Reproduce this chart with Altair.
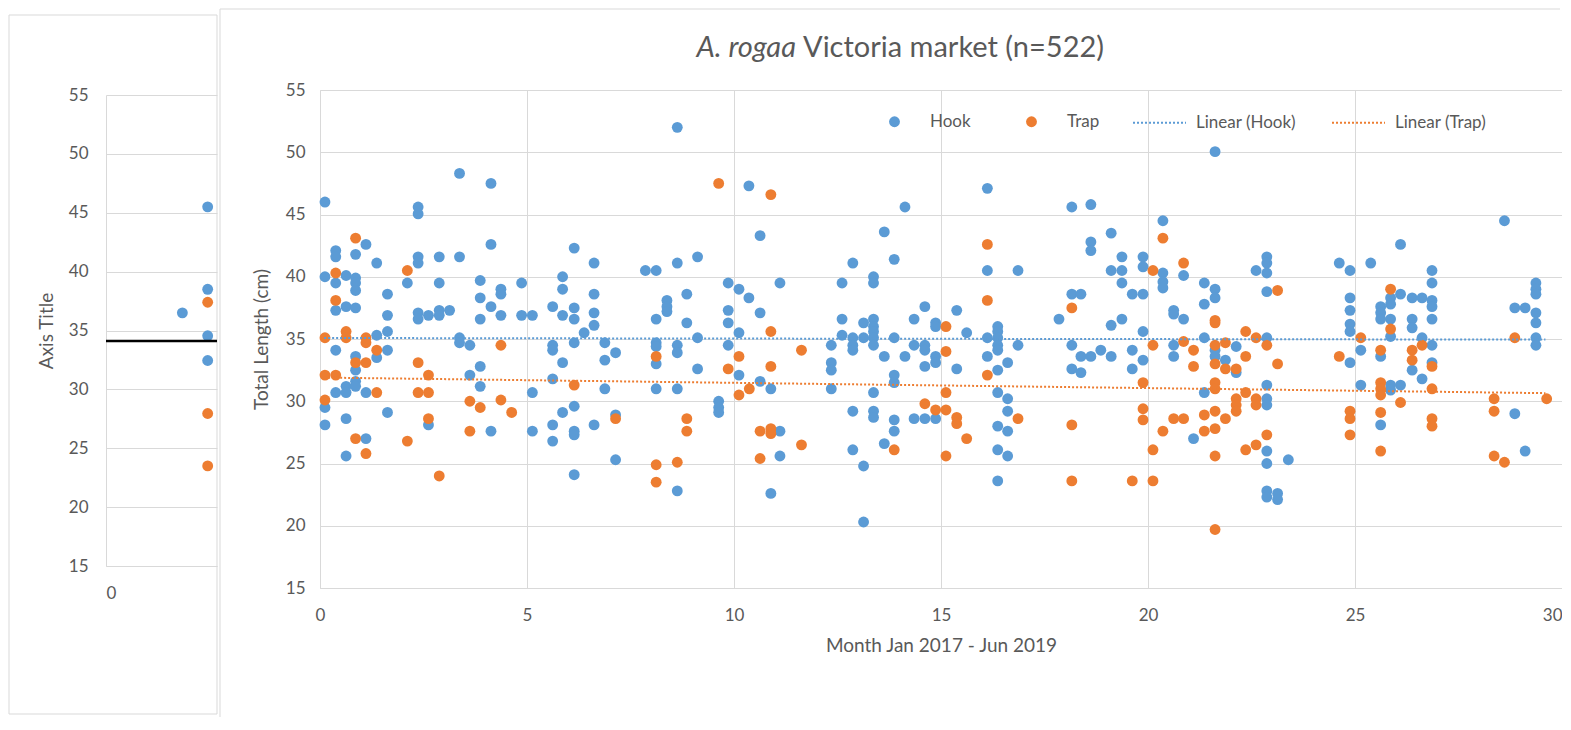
import altair as alt
import pandas as pd

BLUE = "#5B9BD5"
ORANGE = "#ED7D31"
TEXT = "#595959"
GRID = "#D9D9D9"
FONT = "Lato"

# ---------------- data ----------------
hook_x = [3.37, 4.13, 0.12, 2.37, 2.37, 1.11, 4.13, 0.38, 0.38, 0.86, 1.37, 2.37, 2.37, 2.88, 3.37,
          0.12, 0.38, 0.63, 0.86, 0.86, 0.86, 2.11, 2.88, 1.63, 3.87, 3.87, 4.37, 4.37, 4.87, 4.13,
          0.38, 0.63, 0.86, 1.63, 2.37, 2.37, 2.62, 2.88, 2.88, 3.13, 3.87, 4.37, 4.87, 5.13, 1.63,
          1.37, 3.37, 3.37, 3.62, 0.38, 1.63, 0.86, 1.37, 0.86, 3.87, 3.62, 0.86, 0.63, 0.38, 0.86,
          1.11, 0.63, 3.87, 0.12, 0.12, 0.63, 1.63, 2.62, 4.13, 5.13, 1.11, 0.63, 5.62, 5.62, 5.62,
          5.62, 5.86, 5.86, 5.62, 5.86, 5.86, 5.62, 5.86, 5.13,
          8.63, 10.36, 10.63, 6.14, 6.62, 7.86, 8.12, 8.63, 9.12, 6.62, 6.14, 6.14, 6.62, 6.62, 6.38,
          6.14, 6.88, 7.14, 6.88, 8.38, 8.38, 8.38, 8.12, 8.86, 8.86, 8.12, 8.12, 8.12, 8.63, 8.63,
          9.12, 9.12, 9.86, 10.12, 10.36, 10.63, 11.11, 9.86, 9.86, 10.12, 9.86, 10.12, 10.63, 10.89,
          6.14, 6.14, 6.14, 6.62, 7.14, 6.88, 8.12, 8.63, 9.63, 9.63, 9.63, 11.11, 11.11, 7.14, 6.14,
          8.63, 10.89,
          16.12, 14.13, 13.63, 12.87, 13.87, 13.37, 13.37, 12.61, 16.12, 16.86, 14.61, 15.38, 14.35,
          14.87, 14.87, 12.61, 13.13, 13.37, 13.37, 13.37, 13.37, 13.37, 13.13, 12.87, 12.87, 12.87,
          12.61, 12.35, 12.35, 12.35, 12.35, 13.87, 13.63, 14.13, 14.35, 14.61, 14.61, 14.61, 14.87,
          14.87, 15.62, 15.38, 13.87, 13.87, 13.37, 12.87, 13.37, 13.37, 13.87, 13.87, 14.35, 14.61,
          14.87, 13.63, 12.87, 13.13, 13.13, 16.12, 16.12, 16.37, 16.37, 16.37, 16.37, 16.37, 16.86,
          16.37, 16.61, 16.37, 16.61, 16.61, 16.37, 16.61, 16.37, 16.61, 16.37, 17.85,
          21.62, 18.16, 18.62, 20.36, 19.11, 18.62, 18.62, 19.37, 19.88, 19.88, 19.11, 19.37, 20.36,
          20.36, 20.36, 20.86, 19.37, 18.16, 18.38, 19.62, 19.88, 21.36, 21.62, 21.62, 21.36, 22.87,
          22.87, 22.87, 22.61, 22.87, 20.62, 20.62, 20.86, 19.11, 19.37, 19.88, 18.16, 18.38, 18.62,
          18.86, 19.11, 18.16, 18.38, 19.62, 19.88, 19.62, 20.62, 20.62, 21.36, 21.62, 21.62, 21.87,
          22.13, 22.13, 22.87, 22.87, 21.36, 22.87, 22.87, 21.10, 22.87, 22.87, 23.39, 22.87, 23.13,
          22.87, 23.13,
          28.61, 26.10, 24.62, 24.88, 25.38, 26.86, 26.86, 29.37, 29.37, 29.37, 24.88, 24.88, 24.88,
          24.88, 25.86, 26.10, 26.38, 26.62, 26.86, 26.86, 25.62, 25.62, 25.62, 25.86, 25.86, 26.38,
          26.38, 26.86, 25.86, 26.62, 26.86, 28.86, 29.11, 29.37, 29.37, 29.37, 29.37, 25.14, 24.88,
          25.62, 26.38, 26.62, 26.86, 25.14, 25.86, 25.86, 26.10, 25.62, 28.86, 29.11]
hook_y = [48.3, 47.5, 46.0, 45.6, 45.05, 42.6, 42.6, 42.1, 41.6, 41.8, 41.1, 41.6, 41.1, 41.6, 41.6,
          40.0, 39.5, 40.1, 39.9, 39.5, 38.9, 39.5, 39.5, 38.6, 39.7, 38.3, 39.0, 38.6, 39.5, 37.6,
          37.3, 37.6, 37.5, 36.9, 37.1, 36.6, 36.9, 37.3, 36.9, 37.3, 36.6, 36.9, 36.9, 36.9, 35.6,
          35.3, 35.1, 34.7, 34.5, 34.1, 34.1, 33.6, 33.5, 32.5, 32.8, 32.1, 31.6, 31.2, 30.7, 31.2,
          30.7, 30.7, 31.2, 29.5, 28.1, 28.6, 29.1, 28.1, 27.6, 27.6, 27.0, 25.6, 28.1, 26.8, 34.5,
          34.1, 40.0, 39.0, 37.6, 36.9, 33.1, 31.8, 29.1, 30.7,
          52.0, 47.3, 43.3, 42.3, 41.1, 40.5, 40.5, 41.1, 41.6, 38.6, 37.5, 36.6, 37.1, 36.1, 35.5,
          34.7, 34.7, 33.9, 33.3, 38.1, 37.6, 37.2, 36.6, 38.6, 36.3, 34.7, 34.4, 33.0, 34.5, 33.9,
          35.1, 32.6, 39.5, 39.0, 38.3, 37.1, 39.5, 37.3, 36.3, 35.5, 34.5, 32.1, 31.6, 31.0,
          29.6, 27.6, 27.3, 28.1, 28.9, 31.0, 31.0, 31.0, 30.0, 29.5, 29.1, 27.6, 25.6, 25.3, 24.1,
          22.8, 22.6,
          47.1, 45.6, 43.6, 41.1, 41.4, 40.0, 39.5, 39.5, 40.5, 40.5, 37.6, 37.3, 36.6,
          36.3, 36.0, 36.6, 36.3, 36.6, 36.0, 35.6, 35.1, 34.5, 35.1, 35.1, 34.5, 34.1,
          35.3, 34.5, 33.1, 32.5, 31.0, 35.1, 33.6, 33.6, 34.5, 34.5, 34.1, 32.8, 33.6,
          33.1, 35.5, 32.6, 32.1, 31.5, 30.7, 29.2, 29.2, 28.7, 28.5, 27.6, 28.6, 28.6,
          28.6, 26.6, 26.1, 24.8, 20.3, 35.1, 33.6, 36.0, 35.6, 35.1, 34.5, 34.1, 34.5,
          32.5, 33.1, 30.7, 30.2, 29.2, 28.0, 27.6, 26.1, 25.6, 23.6, 36.6,
          50.05, 45.6, 45.8, 44.5, 43.5, 42.8, 42.1, 41.6, 41.6, 40.8, 40.5, 40.5, 40.3,
          39.6, 39.1, 40.1, 39.5, 38.6, 38.6, 38.6, 38.6, 39.5, 39.0, 38.3, 37.8, 41.6,
          41.1, 40.3, 40.5, 38.8, 37.3, 37.0, 36.6, 36.1, 36.6, 35.6, 34.5, 33.6, 33.6,
          34.1, 33.6, 32.6, 32.3, 34.1, 33.3, 32.6, 34.5, 33.6, 35.1, 34.1, 33.6, 33.3,
          34.4, 32.3, 35.1, 31.3, 30.7, 30.2, 29.7, 27.0, 26.0, 25.0, 25.3, 22.8, 22.6,
          22.3, 22.1,
          44.5, 42.6, 41.1, 40.5, 41.1, 40.5, 39.5, 39.5, 39.0, 38.6, 38.3, 37.3, 36.2,
          35.6, 38.3, 38.6, 38.3, 38.3, 38.1, 37.6, 37.6, 37.1, 36.6, 37.8, 36.6, 36.6,
          35.9, 36.6, 35.2, 35.1, 34.5, 37.5, 37.5, 37.1, 36.3, 35.1, 34.5, 34.1, 33.1,
          33.6, 32.5, 31.8, 33.1, 31.3, 31.3, 30.9, 31.3, 28.1, 29.0, 26.0]

trap_x = [0.86, 0.38, 2.11, 0.38, 0.12, 0.63, 0.63, 1.11, 1.11, 1.37, 0.86, 1.11, 2.37, 4.37, 0.12,
          0.38, 2.62, 0.12, 1.37, 2.37, 2.62, 3.62, 3.87, 4.37, 4.63, 2.62, 3.62, 0.86, 1.11, 2.11,
          2.88,
          9.63, 10.89, 10.89, 11.63, 10.12, 10.89, 9.86, 8.12, 6.14, 10.37, 10.12, 7.14, 8.86, 8.86,
          10.63, 10.89, 10.89, 11.63, 10.63, 8.12, 8.12, 8.63,
          16.12, 16.12, 15.12, 15.12, 16.12, 15.12, 14.61, 14.87, 15.12, 15.38, 15.38, 15.62, 13.87,
          15.12, 16.86,
          20.36, 20.86, 20.12, 23.13, 18.16, 21.62, 21.62, 22.36, 22.61, 22.87, 20.12, 20.86, 21.10,
          21.62, 21.87, 22.36, 23.13, 21.10, 21.62, 21.87, 22.13, 19.88, 21.62, 21.62, 22.13, 22.13,
          22.13, 22.36, 22.61, 22.61, 19.88, 19.88, 20.62, 20.86, 21.36, 21.62, 21.87, 21.36, 21.62,
          20.36, 22.87, 22.61, 22.36, 18.16, 20.12, 21.62, 18.16, 19.62, 20.12, 21.62,
          25.86, 25.86, 25.14, 28.86, 26.62, 26.38, 26.38, 25.62, 24.62, 26.86, 25.62, 25.62, 25.62,
          26.86, 26.10, 24.88, 24.88, 25.62, 26.86, 26.86, 24.88, 25.62, 28.36, 28.36, 28.36, 28.61,
          29.63]
trap_y = [43.1, 40.3, 40.5, 38.1, 35.1, 35.6, 35.1, 35.1, 34.7, 34.1, 33.1, 33.1, 33.1, 34.5, 32.1,
          32.1, 32.1, 30.1, 30.7, 30.7, 30.7, 30.0, 29.5, 30.1, 29.1, 28.6, 27.6, 27.0, 25.8, 26.8,
          24.0,
          47.5, 46.6, 35.6, 34.1, 33.6, 32.8, 32.6, 33.6, 31.3, 31.0, 30.5, 28.6, 28.6, 27.6,
          27.6, 27.8, 27.4, 26.5, 25.4, 24.9, 23.5, 25.1,
          42.6, 38.1, 36.0, 34.0, 32.1, 30.7, 29.8, 29.3, 29.3, 28.7, 28.2, 27.0, 26.1,
          25.6, 28.6,
          43.1, 41.1, 40.5, 38.9, 37.5, 36.5, 36.3, 35.6, 35.1, 34.5, 34.5, 34.8, 34.1,
          34.5, 34.7, 33.6, 33.0, 32.8, 33.0, 32.6, 32.6, 31.5, 31.5, 31.0, 30.2, 29.7,
          29.2, 30.7, 30.2, 29.7, 29.4, 28.5, 28.6, 28.6, 28.9, 29.2, 28.6, 27.6, 27.8,
          27.6, 27.3, 26.5, 26.1, 28.1, 26.1, 25.6, 23.6, 23.6, 23.6, 19.7,
          39.0, 35.8, 35.1, 35.1, 34.5, 34.1, 33.3, 34.1, 33.6, 32.8, 31.5, 31.0, 30.5,
          31.0, 29.9, 29.2, 28.6, 29.1, 28.6, 28.0, 27.3, 26.0, 30.2, 29.2, 25.6, 25.1,
          30.2]

trend_x = [0.1, 29.6]
hook_trend_y = [35.08, 34.95]
trap_trend_y = [31.9, 30.65]

# partly hidden chart behind
bg_hook_x = [1.72, 2.29, 2.29, 2.29, 2.29]
bg_hook_y = [36.5, 45.5, 38.5, 34.55, 32.45]
bg_trap_x = [2.29, 2.29, 2.29]
bg_trap_y = [37.4, 27.95, 23.5]
bg_level = [34.1]

y_ticks = [15, 20, 25, 30, 35, 40, 45, 50, 55]
x_ticks = [0, 5, 10, 15, 20, 25, 30]
series_names = ["Hook", "Trap"]
trend_names = ["Linear (Hook)", "Linear (Trap)"]

title_italic = "A. rogaa"
title_rest = "Victoria market (n=522)"

# ---------------- tables ----------------
pts = pd.concat([
    pd.DataFrame({"month": hook_x, "length": hook_y, "series": series_names[0]}),
    pd.DataFrame({"month": trap_x, "length": trap_y, "series": series_names[1]}),
], ignore_index=True)
trend = pd.DataFrame({
    "month": trend_x + trend_x,
    "length": hook_trend_y + trap_trend_y,
    "trend": [trend_names[0]] * 2 + [trend_names[1]] * 2,
})
bg_pts = pd.concat([
    pd.DataFrame({"month": bg_hook_x, "length": bg_hook_y, "series": series_names[0]}),
    pd.DataFrame({"month": bg_trap_x, "length": bg_trap_y, "series": series_names[1]}),
], ignore_index=True)
bg_rule = pd.DataFrame({"level": bg_level})
one = pd.DataFrame({"k": [0]})

DOT = 118

# ---------------- main chart (B) ----------------
W, H = 1242, 498
xs = alt.Scale(domain=[0, 30], nice=False)
ys = alt.Scale(domain=[15, 55], nice=False)
x_axis = alt.Axis(values=x_ticks, title="Month Jan 2017 - Jun 2019", grid=True, ticks=False,
                  labelPadding=19, titlePadding=13,
                  labelAlign={"condition": {"test": "datum.value >= 30", "value": "right"},
                              "value": "center"})
y_axis = alt.Axis(values=y_ticks, title="Total Length (cm)", grid=True, ticks=False,
                  labelPadding=15, titlePadding=14)
color_scale = alt.Scale(domain=series_names, range=[BLUE, ORANGE])

frame_left = alt.Chart(one).mark_rule(color=GRID, strokeWidth=1).encode(
    x=alt.value(-100), y=alt.value(-81), y2=alt.value(627))
frame_top = alt.Chart(one).mark_rule(color=GRID, strokeWidth=1).encode(
    x=alt.value(-100), x2=alt.value(1240), y=alt.value(-81))

points = alt.Chart(pts).mark_circle(size=DOT, opacity=1).encode(
    x=alt.X("month:Q", scale=xs, axis=x_axis),
    y=alt.Y("length:Q", scale=ys, axis=y_axis),
    color=alt.Color("series:N", scale=color_scale,
                    legend=alt.Legend(orient="none", legendX=566, legendY=23, direction="horizontal",
                                      title=None, symbolType="circle", symbolSize=DOT,
                                      symbolStrokeWidth=0, labelOffset=27, columnPadding=52,
                                      padding=0)),
)
lines = alt.Chart(trend).mark_line(strokeDash=[2, 2], strokeWidth=2).encode(
    x=alt.X("month:Q", scale=xs, axis=x_axis),
    y=alt.Y("length:Q", scale=ys, axis=y_axis),
    stroke=alt.Stroke("trend:N", scale=alt.Scale(domain=trend_names, range=[BLUE, ORANGE]),
                      legend=alt.Legend(orient="none", legendX=812, legendY=5,
                                        direction="horizontal", title=None, symbolType="stroke",
                                        symbolSize=2809, symbolStrokeWidth=2, symbolDash=[2, 2],
                                        labelOffset=9, columnPadding=32, padding=0)),
)
t1 = alt.Chart(one).mark_text(text=title_italic, font=FONT, fontSize=29, fontStyle="italic",
                              color=TEXT, align="right", baseline="alphabetic").encode(
    x=alt.value(476), y=alt.value(-33))
t2 = alt.Chart(one).mark_text(text=title_rest, font=FONT, fontSize=29, color=TEXT,
                              align="left", baseline="alphabetic").encode(
    x=alt.value(483), y=alt.value(-33))

main = alt.layer(frame_left, frame_top, points, lines, t1, t2).properties(width=W, height=H)

# ---------------- background chart (A), mostly hidden ----------------
a_xs = alt.Scale(domain=[0, 2.5], nice=False)
a_ys = alt.Scale(domain=[15, 55], nice=False, range=[476, 5])
a_x_axis = alt.Axis(values=[0], title=None, grid=False, ticks=False, offset=-22, labelPadding=19)
a_y_axis = alt.Axis(values=y_ticks, title="Axis Title", grid=True, ticks=False,
                    labelPadding=18, titlePadding=12)

a_frame = alt.Chart(one).mark_rect(fill="transparent", stroke=GRID, strokeWidth=1).encode(
    x=alt.value(-97), x2=alt.value(111), y=alt.value(-75), y2=alt.value(624))
a_pad = alt.Chart(one).mark_rule(color="white", strokeWidth=1).encode(
    x=alt.value(0), x2=alt.value(1), y=alt.value(-81))
a_points = alt.Chart(bg_pts).mark_circle(size=DOT, opacity=1).encode(
    x=alt.X("month:Q", scale=a_xs, axis=a_x_axis),
    y=alt.Y("length:Q", scale=a_ys, axis=a_y_axis),
    color=alt.Color("series:N", scale=color_scale, legend=None),
)
a_rule = alt.Chart(bg_rule).mark_rule(color="black", strokeWidth=2.5).encode(
    y=alt.Y("level:Q", scale=a_ys, axis=a_y_axis))

back = alt.layer(a_frame, a_pad, a_points, a_rule).properties(width=111, height=H)

chart = alt.hconcat(back, main, spacing=0).properties(padding=0).resolve_scale(
    color="independent", stroke="independent"
).configure_view(strokeWidth=0).configure_axis(
    labelFont=FONT, titleFont=FONT, labelColor=TEXT, titleColor=TEXT,
    labelFontSize=17, titleFontSize=19, titleFontWeight="normal",
    gridColor=GRID, domainColor=GRID, gridWidth=1, domainWidth=1,
).configure_legend(labelFont=FONT, labelFontSize=17, labelColor=TEXT)

chart.save("out.html", embed_options={"renderer": "svg", "actions": False})
